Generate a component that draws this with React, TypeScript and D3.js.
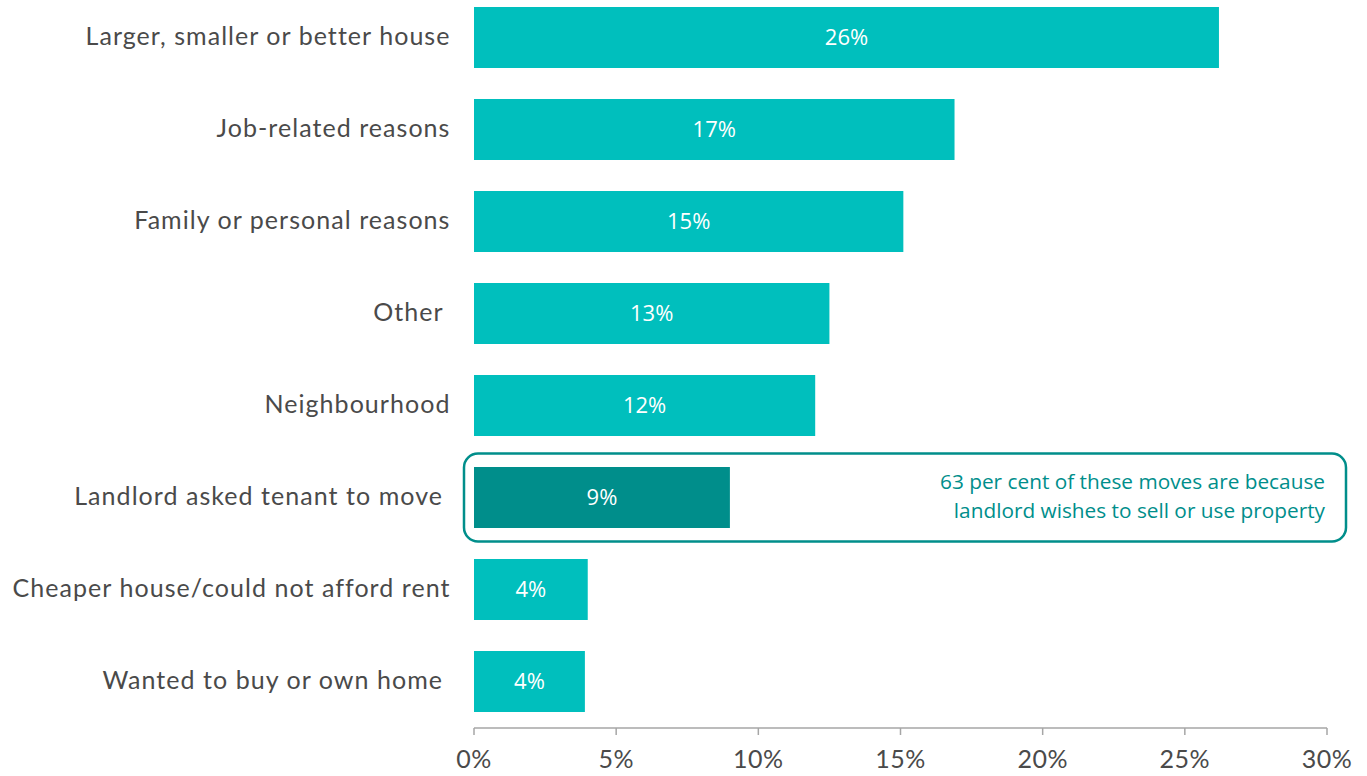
import React from "react";
import * as d3 from "d3";

const categories = [
  "Larger, smaller or better house",
  "Job-related reasons",
  "Family or personal reasons",
  "Other ",
  "Neighbourhood",
  "Landlord asked tenant to move ",
  "Cheaper house/could not afford rent",
  "Wanted to buy or own home ",
];
const values = [26.2, 16.9, 15.1, 12.5, 12.0, 9.0, 4.0, 3.9];
const valueLabels = ["26%", "17%", "15%", "13%", "12%", "9%", "4%", "4%"];
const highlighted = ["Landlord asked tenant to move "];
const xTicks = [0, 5, 10, 15, 20, 25, 30];
const annotationLines = [
  "63 per cent of these moves are because",
  "landlord wishes to sell or use property",
];

const W = 1367;
const H = 776;

export default function App() {
  const x = d3.scaleLinear().domain([0, 30]).range([474, 1327]);
  const y = d3
    .scaleBand<string>()
    .domain(categories)
    .range([-8.5, 727.5])
    .paddingInner(0.337)
    .paddingOuter(0.1685);
  const bw = y.bandwidth();
  const axisY = 728;
  const labelFont = "Lato, 'Noto Sans', sans-serif";
  const valFont = "'Open Sans', 'Noto Sans', sans-serif";
  const hiCat = highlighted[0];
  const hiY = (y(hiCat) as number) + bw / 2;

  return (
    <svg
      width={W}
      height={H}
      style={{ position: "absolute", left: 0, top: 0, background: "#fff" }}
    >
      {categories.map((c, i) => {
        const yy = y(c) as number;
        const isHi = highlighted.includes(c);
        return (
          <g key={c}>
            <rect
              x={x(0)}
              y={yy}
              width={x(values[i]) - x(0)}
              height={bw}
              fill={isHi ? "#008E8B" : "#00BFBD"}
            />
            <text
              x={(x(0) + x(values[i])) / 2}
              y={yy + bw / 2 + 2}
              textAnchor="middle"
              dominantBaseline="middle"
              fill="#fff"
              fontFamily={valFont}
              fontSize={22}
            >
              {valueLabels[i]}
            </text>
            <text
              x={450.5}
              y={yy + bw / 2 + 1}
              textAnchor="end"
              dominantBaseline="middle"
              fill="#4a4a4a"
              fontFamily={labelFont}
              fontSize={25}
              letterSpacing={1.05}
              style={{ whiteSpace: "pre" }}
            >
              {c.endsWith(" ") ? c.trimEnd() + "\u00a0" : c}
            </text>
          </g>
        );
      })}

      <rect
        x={464}
        y={hiY - 44}
        width={882}
        height={88}
        rx={14}
        ry={14}
        fill="none"
        stroke="#008E8B"
        strokeWidth={2.5}
      />
      {annotationLines.map((t, i) => (
        <text
          key={i}
          x={1325}
          y={hiY - 14 + i * 29}
          textAnchor="end"
          dominantBaseline="middle"
          fill="#008E8B"
          fontFamily={valFont}
          fontSize={20.8}
        >
          {t}
        </text>
      ))}

      <line
        x1={x(0)}
        x2={x(30)}
        y1={axisY}
        y2={axisY}
        stroke="#a6a6a6"
        strokeWidth={1.5}
      />
      {xTicks.map((t) => (
        <g key={t}>
          <line
            x1={x(t)}
            x2={x(t)}
            y1={axisY}
            y2={axisY + 7}
            stroke="#a6a6a6"
            strokeWidth={1.5}
          />
          <text
            x={x(t)}
            y={762}
            textAnchor="middle"
            dominantBaseline="middle"
            fill="#4a4a4a"
            fontFamily={labelFont}
            fontSize={25}
            letterSpacing={0.5}
          >
            {t + "%"}
          </text>
        </g>
      ))}
    </svg>
  );
}
